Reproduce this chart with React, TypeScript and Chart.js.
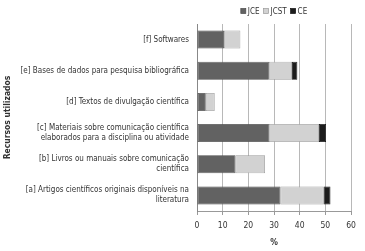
import React, { useEffect, useRef } from "react";
import { Chart, registerables } from "chart.js";

Chart.register(...registerables);

const categories: (string | string[])[] = [
  "[f] Softwares",
  "[e] Bases de dados para pesquisa bibliográfica",
  "[d] Textos de divulgação científica",
  ["[c] Materiais sobre comunicação científica", "elaborados para a disciplina ou atividade"],
  ["[b] Livros ou manuais sobre comunicação", "científica"],
  ["[a] Artigos científicos originais disponíveis na", "literatura"],
];
const seriesNames = ["JCE", "JCST", "CE"];
const jce = [10.5, 28, 3.4, 28, 15, 32.5];
const jcst = [6.4, 9, 3.5, 19.5, 11.5, 16.8];
const ce = [0, 2.1, 0, 2.8, 0, 2.7];
const xTicks = [0, 10, 20, 30, 40, 50, 60];
const colors = ["#626262", "#d2d2d2", "#1c1c1c"];
const borders = ["#4a4a4a", "#9a9a9a", "#111111"];

const FONT = "'Liberation Sans Narrow', 'DejaVu Sans Condensed', Arial, sans-serif";

const legendPlugin = {
  id: "customLegend",
  afterDraw(chart: any) {
    const ctx = chart.ctx;
    const area = chart.chartArea;
    const cx = (area.left + area.right) / 2;
    ctx.save();
    ctx.font = `8px ${FONT}`;
    const box = 5;
    const gap = 2;
    const itemGap = 4;
    const widths = seriesNames.map((n) => box + gap + ctx.measureText(n).width);
    const total = widths.reduce((a, b) => a + b, 0) + itemGap * (seriesNames.length - 1);
    let x = cx - total / 2;
    const y = 11;
    seriesNames.forEach((n, i) => {
      ctx.fillStyle = colors[i];
      ctx.strokeStyle = borders[i];
      ctx.lineWidth = 0.7;
      ctx.fillRect(x, y - box / 2, box, box);
      ctx.strokeRect(x, y - box / 2, box, box);
      ctx.fillStyle = "#333";
      ctx.textBaseline = "middle";
      ctx.textAlign = "left";
      ctx.fillText(n, x + box + gap, y + 0.5);
      x += widths[i] + itemGap;
    });
    ctx.restore();
  },
};

export default function App() {
  const ref = useRef<HTMLCanvasElement>(null);
  useEffect(() => {
    const data = [jce, jcst, ce];
    const chart = new Chart(ref.current!, {
      type: "bar",
      data: {
        labels: categories,
        datasets: seriesNames.map((n, i) => ({
          label: n,
          data: data[i],
          backgroundColor: colors[i],
          borderColor: borders[i],
          borderWidth: 0.8,
          borderSkipped: false,
          barPercentage: 0.58,
          categoryPercentage: 1,
        })),
      },
      options: {
        indexAxis: "y",
        animation: false,
        responsive: false,
        maintainAspectRatio: false,
        layout: { padding: { top: 24, right: 14, left: 3, bottom: 3 } },
        plugins: { legend: { display: false }, tooltip: { enabled: false } },
        scales: {
          x: {
            stacked: true,
            min: 0,
            max: 60,
            afterBuildTicks: (s: any) => {
              s.ticks = xTicks.map((v) => ({ value: v }));
            },
            afterFit: (s: any) => {
              s.height = 37;
            },
            grid: { color: "#b8b8b8", lineWidth: 1, tickLength: 4, tickColor: "#999" },
            border: { display: true, color: "#999" },
            ticks: { color: "#333", font: { family: FONT, size: 8.5 }, padding: 6 },
            title: { display: true, text: "%", color: "#333", font: { family: FONT, size: 8.5, weight: "bold" }, padding: { top: 2, bottom: 0 } },
          },
          y: {
            stacked: true,
            afterFit: (s: any) => {
              s.width = 194;
            },
            grid: { display: false, drawTicks: false },
            border: { display: true, color: "#888" },
            ticks: { color: "#333", font: { family: FONT, size: 8, lineHeight: 1.25 }, padding: 8 },
            title: { display: true, text: "Recursos utilizados", color: "#333", font: { family: FONT, size: 8.5, weight: "bold" }, padding: 0 },
          },
        },
      },
      plugins: [legendPlugin],
    });
    return () => chart.destroy();
  }, []);
  return (
    <div style={{ position: "fixed", left: 0, top: 0, width: 365, height: 251, background: "#fff" }}>
      <canvas ref={ref} width={365} height={251} style={{ width: 365, height: 251 }} />
    </div>
  );
}
